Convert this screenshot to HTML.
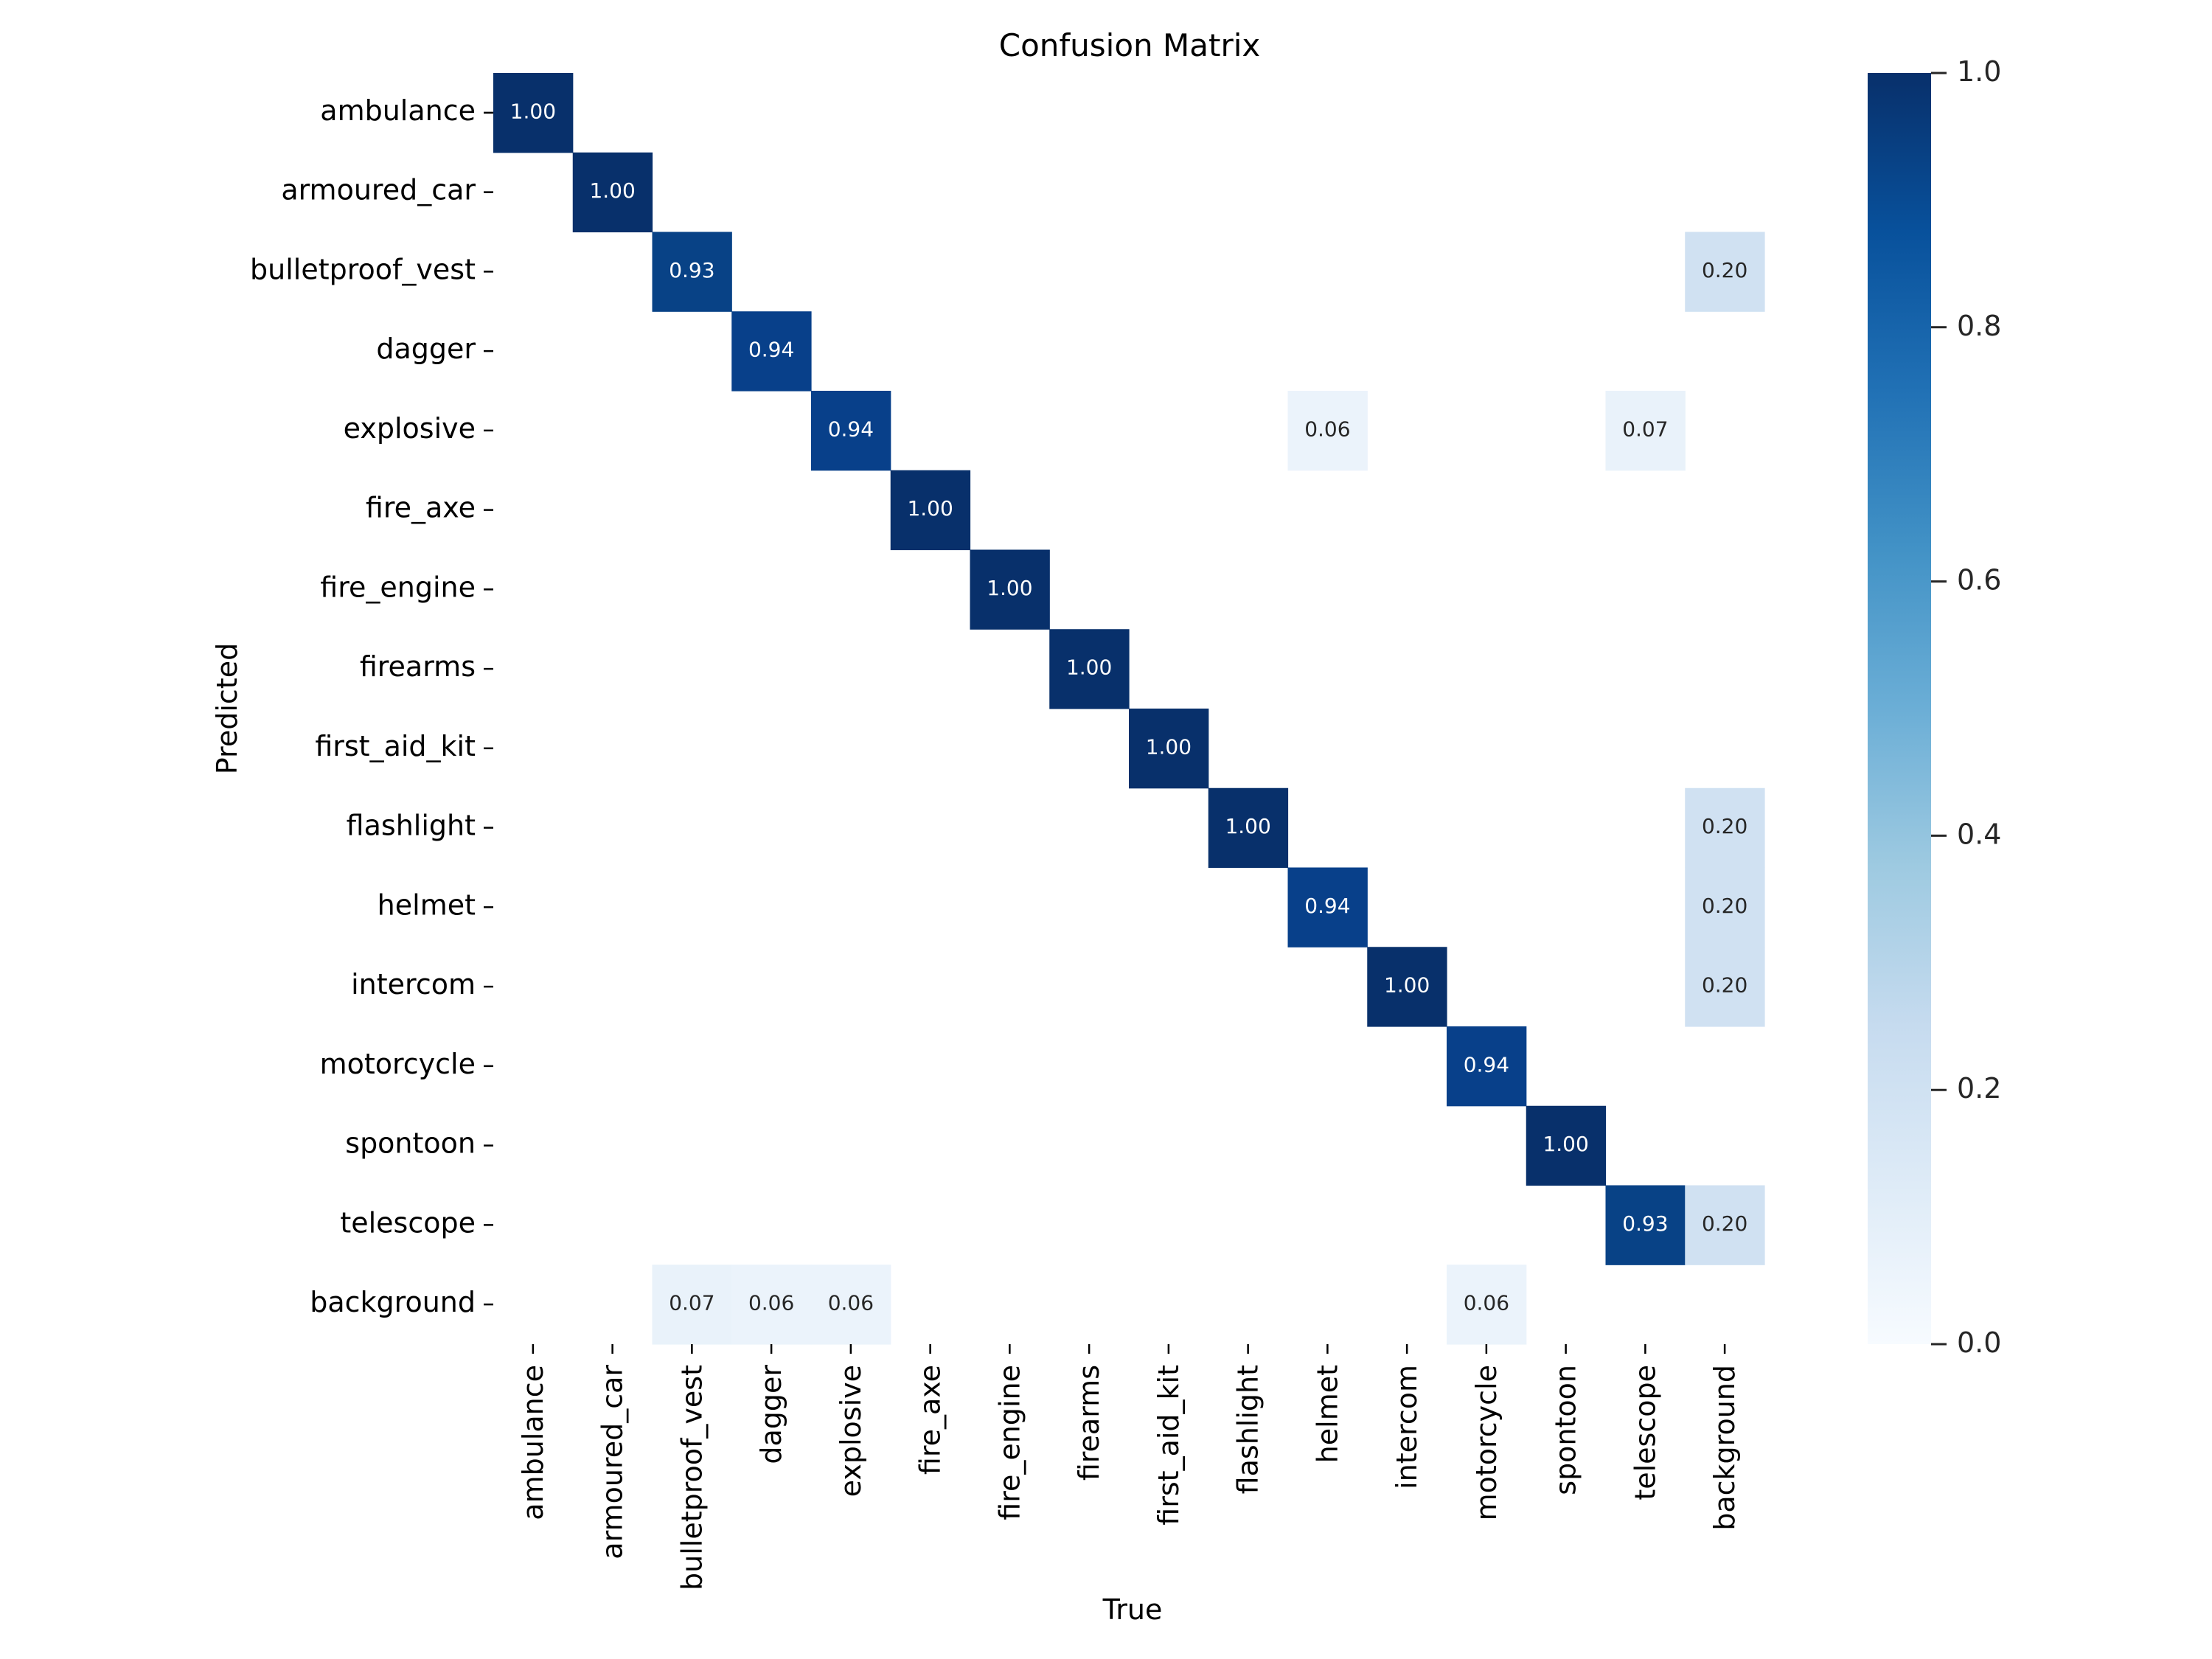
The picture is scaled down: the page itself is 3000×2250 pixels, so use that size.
<!DOCTYPE html>
<html><head><meta charset="utf-8"><style>html,body{margin:0;padding:0;background:#fff}svg{display:block}</style></head>
<body>
<svg xmlns="http://www.w3.org/2000/svg" width="3000" height="2250" viewBox="0 0 3000 2250" font-family="DejaVu Sans, Liberation Sans, sans-serif">
<defs>
<linearGradient id="cb" x1="0" y1="1" x2="0" y2="0">
<stop offset="0" stop-color="#f7fbff"/><stop offset="0.125" stop-color="#deebf7"/><stop offset="0.25" stop-color="#c6dbef"/><stop offset="0.375" stop-color="#9ecae1"/><stop offset="0.5" stop-color="#6baed6"/><stop offset="0.625" stop-color="#4292c6"/><stop offset="0.75" stop-color="#2171b5"/><stop offset="0.875" stop-color="#08519c"/><stop offset="1" stop-color="#08306b"/>
</linearGradient>
</defs>
<rect width="3000" height="2250" fill="#fff"/>
<g id="cells"></g>
<rect x="2533" y="99" width="86" height="1724" fill="url(#cb)"/>
<g stroke="#262626" stroke-width="3">
<line x1="2619" y1="99" x2="2640" y2="99"/><line x1="2619" y1="443.8" x2="2640" y2="443.8"/><line x1="2619" y1="788.6" x2="2640" y2="788.6"/><line x1="2619" y1="1133.4" x2="2640" y2="1133.4"/><line x1="2619" y1="1478.2" x2="2640" y2="1478.2"/><line x1="2619" y1="1823" x2="2640" y2="1823"/>
</g>
<g font-size="38" fill="#262626" dominant-baseline="central">
<text x="2654" y="97">1.0</text><text x="2654" y="441.8">0.8</text><text x="2654" y="786.6">0.6</text><text x="2654" y="1131.4">0.4</text><text x="2654" y="1476.2">0.2</text><text x="2654" y="1821">0.0</text>
</g>
<text x="1532" y="76" font-size="42" text-anchor="middle" fill="#000">Confusion Matrix</text>
<text x="1536" y="2196" font-size="38" text-anchor="middle" fill="#000">True</text>
<text transform="translate(308,961) rotate(-90)" font-size="38" text-anchor="middle" dominant-baseline="central" fill="#000">Predicted</text>
<g id="rl"></g><g id="cl"></g>
<script>
(function(){
var NS="http://www.w3.org/2000/svg";
var names=["ambulance","armoured_car","bulletproof_vest","dagger","explosive","fire_axe","fire_engine","firearms","first_aid_kit","flashlight","helmet","intercom","motorcycle","spontoon","telescope","background"];
var x0=669,y0=99,c=107.75;
var d=[[0,0,1.00],[1,1,1.00],[2,2,0.93],[2,15,0.20],[3,3,0.94],[4,4,0.94],[4,10,0.06],[4,14,0.07],[5,5,1.00],[6,6,1.00],[7,7,1.00],[8,8,1.00],[9,9,1.00],[9,15,0.20],[10,10,0.94],[10,15,0.20],[11,11,1.00],[11,15,0.20],[12,12,0.94],[13,13,1.00],[14,14,0.93],[14,15,0.20],[15,2,0.07],[15,3,0.06],[15,4,0.06],[15,12,0.06]];
var col={"1.00":"#08306b","0.94":"#08408a","0.93":"#084286","0.20":"#d0e1f2","0.07":"#e9f2fa","0.06":"#ebf3fb"};
var g=document.getElementById("cells");
function el(t,a,txt){var e=document.createElementNS(NS,t);for(var k in a)e.setAttribute(k,a[k]);if(txt)e.textContent=txt;return e;}
d.forEach(function(r){var v=r[2].toFixed(2);
g.appendChild(el("rect",{x:x0+r[1]*c,y:y0+r[0]*c,width:c+0.6,height:c+0.6,fill:col[v]}));
g.appendChild(el("text",{x:x0+(r[1]+0.5)*c,y:y0+(r[0]+0.5)*c-2,"font-size":28,"text-anchor":"middle","dominant-baseline":"central",fill:r[2]>0.5?"#ffffff":"#262626"},v));});
var rl=document.getElementById("rl"),cl=document.getElementById("cl");
names.forEach(function(n,i){var y=y0+(i+0.5)*c,x=x0+(i+0.5)*c;
rl.appendChild(el("line",{x1:x0-13,y1:y,x2:x0,y2:y,stroke:"#000","stroke-width":2.5}));
rl.appendChild(el("text",{x:x0-24,y:y-3,"font-size":38,"text-anchor":"end","dominant-baseline":"central",fill:"#000"},n));
cl.appendChild(el("line",{x1:x,y1:1823,x2:x,y2:1836,stroke:"#000","stroke-width":2.5}));
cl.appendChild(el("text",{transform:"translate("+x+",1851) rotate(-90)","font-size":38,"text-anchor":"end","dominant-baseline":"central",fill:"#000"},n));});
})();
</script>
</svg>
</body></html>
